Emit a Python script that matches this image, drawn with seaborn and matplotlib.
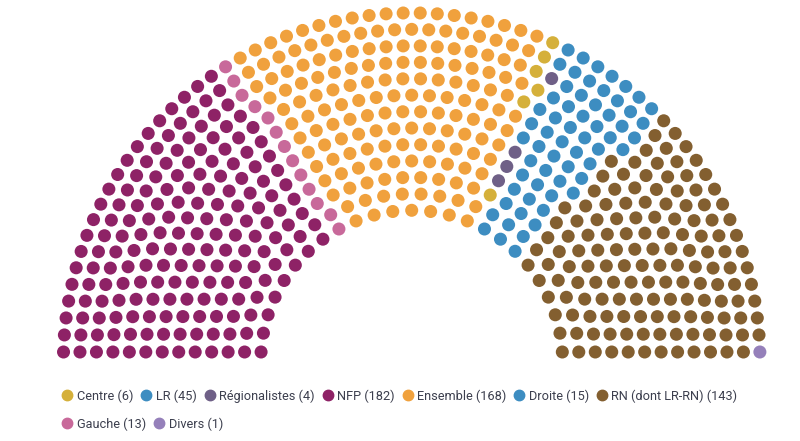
import numpy as np
import pandas as pd
import seaborn as sns
import matplotlib.pyplot as plt
from matplotlib.lines import Line2D

# groupes dans l'ordre de l'hémicycle, de gauche à droite
partis = ["NFP", "Gauche", "Ensemble", "Centre", "Régionalistes", "LR", "Droite", "RN (dont LR-RN)", "Divers"]
sieges = [182, 13, 168, 6, 4, 45, 15, 143, 1]
couleurs = ["#8e2266", "#c8699a", "#f0a13d", "#d5b03a", "#6f6087", "#3d8dc1", "#3d8dc1", "#835f30", "#9580ba"]

# ordre de la légende
ordre_legende = ["Centre", "LR", "Régionalistes", "NFP", "Ensemble", "Droite", "RN (dont LR-RN)", "Gauche", "Divers"]

# géométrie de l'hémicycle (en pixels)
r_int, r_ext = 150.9, 348.3
cx, cy = 411.7, 361.2
h_base = 9.2          # les sièges du bas sont un peu au-dessus du centre
coef_int = 0.4

total = sum(sieges)

# nombre de rangs et de sièges par rang (façon d3-parliament)
a = coef_int / (1 - coef_int)
b = 0.5
n_rangs = 0
max_sieges = 0
while max_sieges < total:
    n_rangs += 1
    b += a
    max_sieges = sum(int(np.floor(np.pi * (b + i))) for i in range(n_rangs))
a_retirer = max_sieges - total
par_rang = [int(np.floor(np.pi * (b + i))) - a_retirer // n_rangs - (1 if a_retirer % n_rangs > i else 0)
            for i in range(n_rangs)]
rayons = np.linspace(r_int, r_ext, n_rangs)

places = []
for r, n in zip(rayons, par_rang):
    alpha = np.arcsin(h_base / r)
    for j in range(n):
        t = j / (n - 1)
        places.append((t, r, np.pi - alpha - t * (np.pi - 2 * alpha)))
df = pd.DataFrame(places, columns=["t", "rayon", "angle"])
df = df.sort_values(["t", "rayon"], ascending=[True, True]).reset_index(drop=True)
df["parti"] = np.repeat(partis, sieges)
df["x"] = cx + df.rayon * np.cos(df.angle)
df["y"] = cy - df.rayon * np.sin(df.angle)

palette = dict(zip(partis, couleurs))

fig = plt.figure(figsize=(8, 4.41), dpi=100)
ax = fig.add_axes([0, 0, 1, 1])
sns.scatterplot(data=df, x="x", y="y", hue="parti", palette=palette, s=88,
                linewidth=0, legend=False, ax=ax)
ax.set_xlim(0, 800)
ax.set_ylim(441, 0)
ax.axis("off")

# légende sur deux lignes
n_par = dict(zip(partis, sieges))
def poignees(noms):
    hh = [Line2D([], [], marker="o", ls="", color=palette[p], markersize=7.5) for p in noms]
    ll = [f"{p} ({n_par[p]})" for p in noms]
    return hh, ll

police = dict(family=["Liberation Sans Narrow", "Roboto", "DejaVu Sans"], size=9.2)
for noms, yy in [(ordre_legende[:7], 1 - 396 / 441), (ordre_legende[7:], 1 - 424 / 441)]:
    hh, ll = poignees(noms)
    fig.legend(hh, ll, loc="center left", bbox_to_anchor=(63 / 800, yy), ncol=len(noms),
               frameon=False, handlelength=0.7, handletextpad=0.4, columnspacing=0.65,
               borderpad=0, borderaxespad=0, prop=police, labelcolor="#3c3f4e")

fig.savefig("out.png", dpi=100, facecolor="white")
